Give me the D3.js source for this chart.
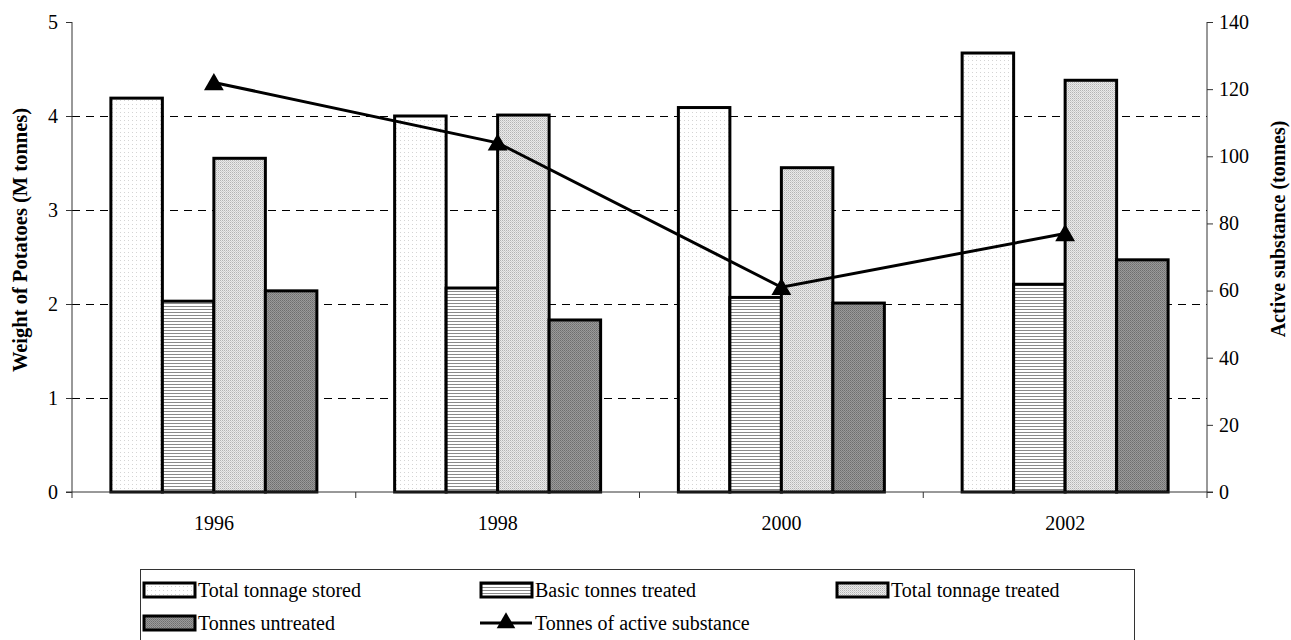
<!DOCTYPE html>
<html>
<head>
<meta charset="utf-8">
<script src="https://cdn.jsdelivr.net/npm/d3@7/dist/d3.min.js"></script>
<style>
  body { margin: 0; background: #fff; }
</style>
</head>
<body>
<div id="chart"></div>
<script>
// data
const years = ['1996', '1998', '2000', '2002']
const seriesNames = ['Total tonnage stored', 'Basic tonnes treated', 'Total tonnage treated', 'Tonnes untreated']
const totalStored = [4.19, 4.0, 4.09, 4.67]
const basicTreated = [2.03, 2.17, 2.07, 2.21]
const totalTreated = [3.55, 4.01, 3.45, 4.38]
const untreated = [2.14, 1.83, 2.01, 2.47]
const activeName = 'Tonnes of active substance'
const activeSubstance = [122, 104, 61, 77]
const leftTicks = [0, 1, 2, 3, 4, 5]
const rightTicks = [0, 20, 40, 60, 80, 100, 120, 140]

const seriesValues = [totalStored, basicTreated, totalTreated, untreated]
const fills = ['url(#pStored)', 'url(#pBasic)', 'url(#pTreated)', 'url(#pUntreated)']

let width = 1291
let height = 640
let margin = {top: 22, right: 84, bottom: 148, left: 72}
const serif = 'Liberation Serif'

const svg = d3.select('#chart').append('svg')
  .attr('width', width)
  .attr('height', height)

// fill patterns, roughly like the old Excel ones
const defs = svg.append('defs')
let p = defs.append('pattern').attr('id', 'pStored').attr('width', 4).attr('height', 4).attr('patternUnits', 'userSpaceOnUse')
p.append('rect').attr('width', 4).attr('height', 4).attr('fill', '#fff')
p.append('rect').attr('width', 1).attr('height', 1).attr('fill', '#d4d4d4')

p = defs.append('pattern').attr('id', 'pBasic').attr('width', 4).attr('height', 3).attr('patternUnits', 'userSpaceOnUse')
p.append('rect').attr('width', 4).attr('height', 3).attr('fill', '#fff')
p.append('rect').attr('width', 4).attr('height', 1).attr('fill', '#8a8a8a')

p = defs.append('pattern').attr('id', 'pTreated').attr('width', 2).attr('height', 2).attr('patternUnits', 'userSpaceOnUse')
p.append('rect').attr('width', 2).attr('height', 2).attr('fill', '#eaeaea')
p.append('rect').attr('width', 1).attr('height', 1).attr('fill', '#b4b4b4')
p.append('rect').attr('x', 1).attr('y', 1).attr('width', 1).attr('height', 1).attr('fill', '#cfcfcf')

p = defs.append('pattern').attr('id', 'pUntreated').attr('width', 2).attr('height', 2).attr('patternUnits', 'userSpaceOnUse')
p.append('rect').attr('width', 2).attr('height', 2).attr('fill', '#9a9a9a')
p.append('rect').attr('width', 1).attr('height', 1).attr('fill', '#6e6e6e')
p.append('rect').attr('x', 1).attr('y', 1).attr('width', 1).attr('height', 1).attr('fill', '#7c7c7c')

const x0 = d3.scaleBand()
  .domain(years)
  .range([margin.left, width - margin.right])

const x1 = d3.scaleBand()
  .domain(seriesNames)
  .range([0, x0.bandwidth()])
  .paddingOuter(0.755)

const y = d3.scaleLinear()
  .domain([0, 5])
  .range([height - margin.bottom, margin.top])

const y2 = d3.scaleLinear()
  .domain([0, 140])
  .range([height - margin.bottom, margin.top])

// dashed grid
svg.append('g')
  .selectAll('line')
  .data(leftTicks.filter(t => t > 0 && t < 5))
  .join('line')
  .attr('x1', margin.left)
  .attr('x2', width - margin.right)
  .attr('y1', d => Math.round(y(d)) + 0.5)
  .attr('y2', d => Math.round(y(d)) + 0.5)
  .attr('stroke', '#000')
  .attr('stroke-width', 1)
  .attr('stroke-dasharray', '8,6')

// bars
svg.append('g')
  .selectAll('g')
  .data(seriesNames)
  .join('g')
  .attr('fill', (d, i) => fills[i])
  .selectAll('rect')
  .data((d, i) => years.map((yr, j) => ({year: yr, name: d, value: seriesValues[i][j]})))
  .join('rect')
  .attr('x', d => x0(d.year) + x1(d.name))
  .attr('width', x1.bandwidth())
  .attr('y', d => y(d.value))
  .attr('height', d => y(0) - y(d.value))
  .attr('stroke', '#000')
  .attr('stroke-width', 3)

// axes
const leftAxis = svg.append('g')
  .attr('transform', `translate(${margin.left},0)`)
  .call(d3.axisLeft(y).tickValues(leftTicks).tickSize(6).tickPadding(8).tickFormat(d3.format('d')))
const rightAxis = svg.append('g')
  .attr('transform', `translate(${width - margin.right},0)`)
  .call(d3.axisRight(y2).tickValues(rightTicks).tickSize(6).tickPadding(6).tickFormat(d3.format('d')))

const boundaries = years.map(d => x0(d)).concat([x0.range()[1]])
const bottomAxis = svg.append('g')
  .attr('transform', `translate(0,${height - margin.bottom})`)
bottomAxis.append('line')
  .attr('x1', margin.left - 6).attr('x2', width - margin.right + 6)
  .attr('stroke', '#333')
bottomAxis.selectAll('line.tk')
  .data(boundaries)
  .join('line')
  .attr('class', 'tk')
  .attr('x1', d => d).attr('x2', d => d)
  .attr('y1', 0).attr('y2', 6)
  .attr('stroke', '#333')
bottomAxis.selectAll('text')
  .data(years)
  .join('text')
  .attr('x', d => x0(d) + x0.bandwidth() / 2)
  .attr('y', 38)
  .attr('text-anchor', 'middle')
  .attr('font-family', serif)
  .attr('font-size', 20)
  .text(d => d)

leftAxis.selectAll('.domain').attr('stroke', '#333').attr('d', `M0,${margin.top}V${height - margin.bottom}`)
rightAxis.selectAll('.domain').attr('stroke', '#333').attr('d', `M0,${margin.top}V${height - margin.bottom}`)
svg.selectAll('.tick line').attr('stroke', '#333')
svg.selectAll('.tick text')
  .attr('font-family', serif)
  .attr('font-size', 20)
  .attr('fill', '#000')

// line with triangles
const line = d3.line()
  .x((d, i) => x0(years[i]) + x0.bandwidth() / 2)
  .y(d => y2(d))

svg.append('path')
  .datum(activeSubstance)
  .attr('fill', 'none')
  .attr('stroke', '#000')
  .attr('stroke-width', 3)
  .attr('d', line)

svg.append('g')
  .selectAll('path')
  .data(activeSubstance)
  .join('path')
  .attr('transform', (d, i) => `translate(${x0(years[i]) + x0.bandwidth() / 2},${y2(d) + 2})`)
  .attr('d', d3.symbol(d3.symbolTriangle, 170))
  .attr('fill', '#000')

// axis titles
svg.append('text')
  .attr('transform', `translate(27,240) rotate(-90)`)
  .attr('text-anchor', 'middle')
  .attr('font-family', serif)
  .attr('font-size', 20.5)
  .attr('font-weight', 'bold')
  .text('Weight of Potatoes (M tonnes)')

svg.append('text')
  .attr('transform', `translate(1285,229) rotate(-90)`)
  .attr('text-anchor', 'middle')
  .attr('font-family', serif)
  .attr('font-size', 20)
  .attr('font-weight', 'bold')
  .text('Active substance (tonnes)')

// legend
const legend = svg.append('g')
legend.append('rect')
  .attr('x', 140.5).attr('y', 569.5)
  .attr('width', 994).attr('height', 80)
  .attr('fill', '#fff')
  .attr('stroke', '#333')

const legendCols = [143, 480, 836]
const legendItems = seriesNames.map((d, i) => ({name: d, fill: fills[i], kind: 'bar'}))
  .concat([{name: activeName, kind: 'line'}])

const items = legend.selectAll('g.item')
  .data(legendItems)
  .join('g')
  .attr('class', 'item')
  .attr('transform', (d, i) => `translate(${legendCols[i % 3]},${i < 3 ? 590 : 623})`)

items.filter(d => d.kind === 'bar')
  .append('rect')
  .attr('x', 1).attr('y', -7)
  .attr('width', 51).attr('height', 14)
  .attr('fill', d => d.fill)
  .attr('stroke', '#000')
  .attr('stroke-width', 3)

const lineItems = items.filter(d => d.kind === 'line')
lineItems.append('line')
  .attr('x1', 0).attr('x2', 52)
  .attr('stroke', '#000').attr('stroke-width', 3)
lineItems.append('path')
  .attr('transform', 'translate(26,0)')
  .attr('d', d3.symbol(d3.symbolTriangle, 150))
  .attr('fill', '#000')

items.append('text')
  .attr('x', 55)
  .attr('y', 7)
  .attr('font-family', serif)
  .attr('font-size', 20)
  .text(d => d.name)
</script>
</body>
</html>
